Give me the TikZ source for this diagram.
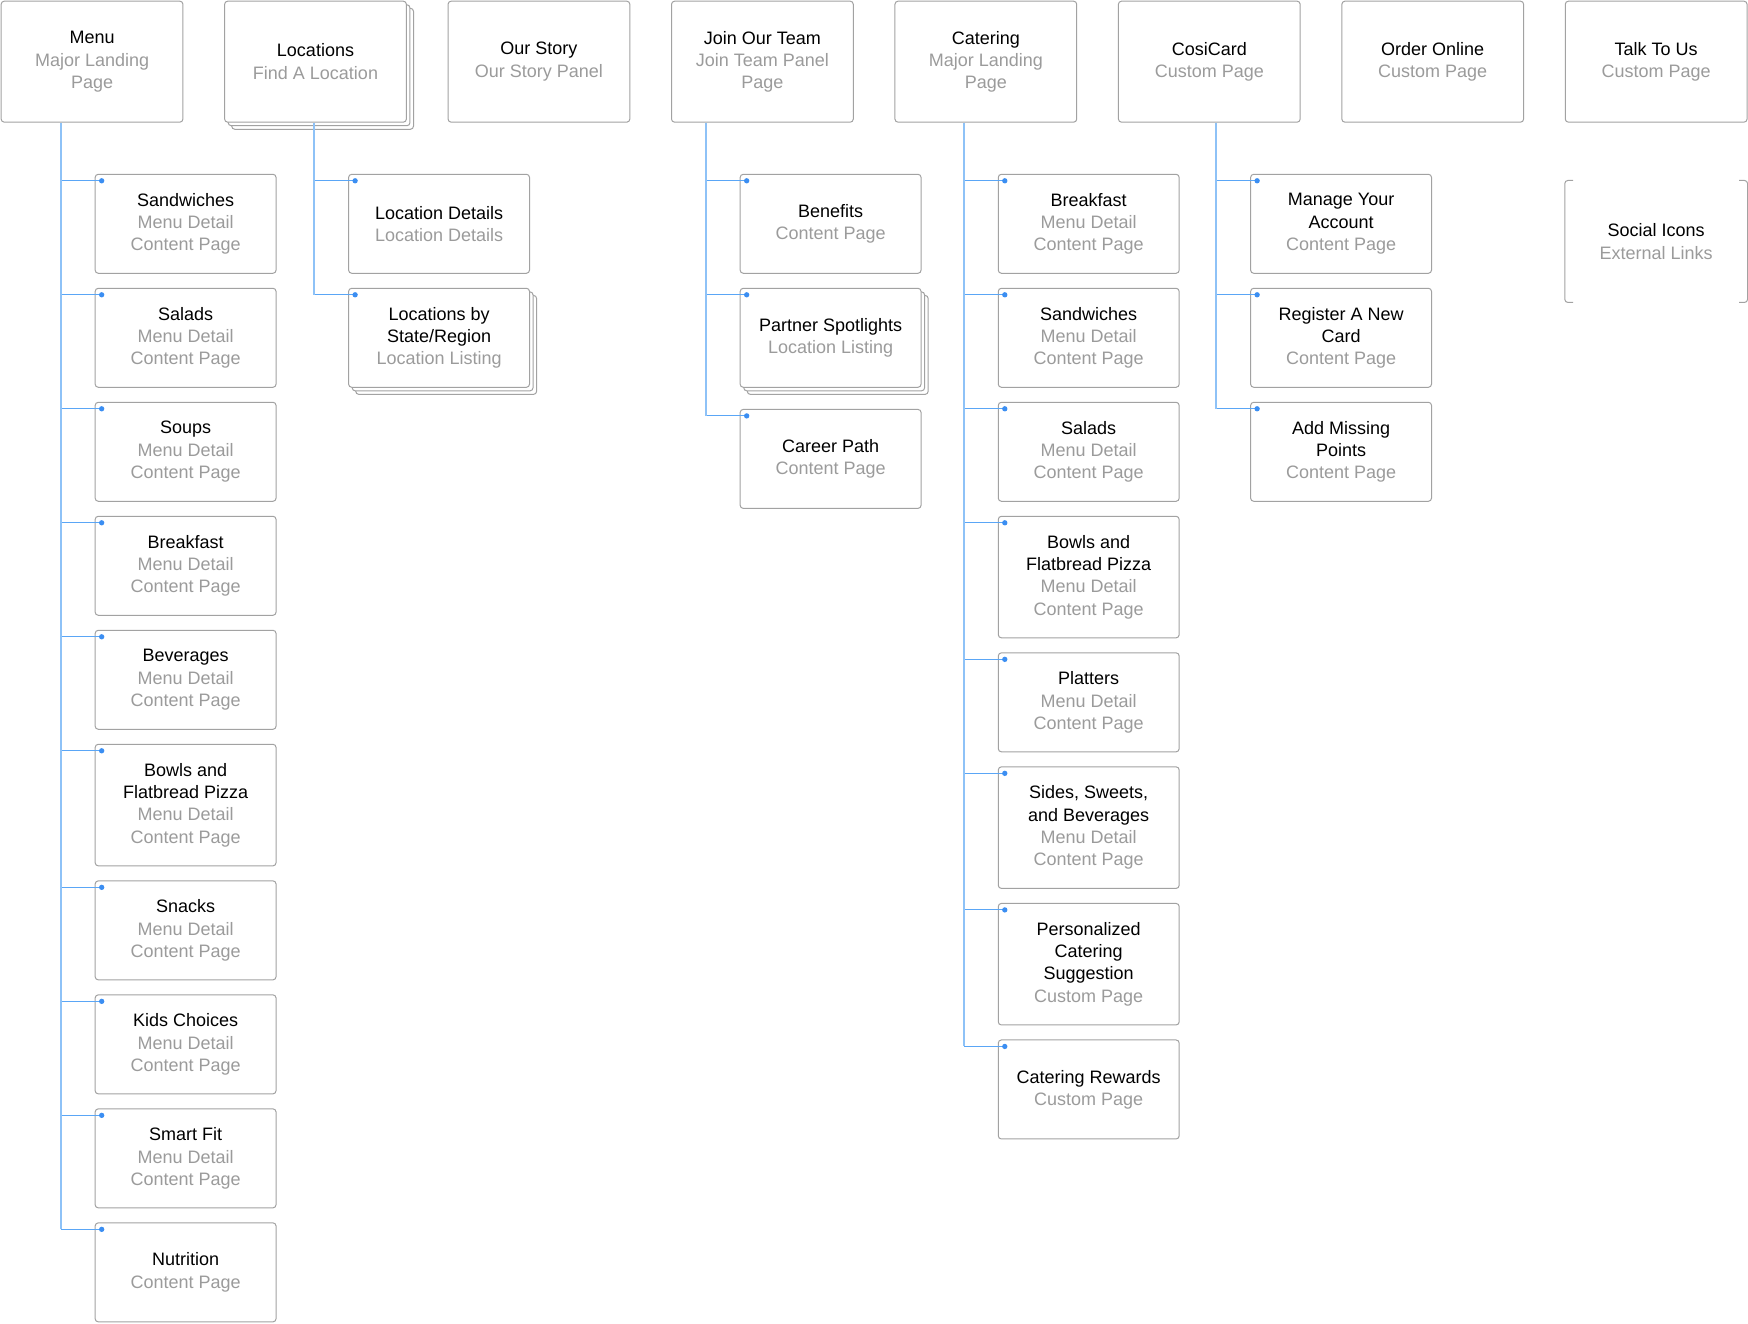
\documentclass[tikz,border=0pt]{standalone}
\usepackage{fontspec}
\setmainfont{Liberation Sans}
\usepackage{xcolor}
\usetikzlibrary{positioning, shadows}

\definecolor{boxgray}{HTML}{A2A2A2}
\definecolor{subgray}{HTML}{9B9B9B}
\definecolor{linkblue}{HTML}{5AA6F6}
\definecolor{trunkblue}{HTML}{8EC2F7}
\definecolor{dotblue}{HTML}{3B8EF2}

\newcommand{\gr}[1]{\textcolor{subgray}{#1}}

\begin{document}
\begin{tikzpicture}[font=\fontsize{8.1}{10}\selectfont, node distance=6.3pt]
        \tikzstyle{toppage}=[draw=boxgray, line width=0.45pt, fill=white, rounded corners=1.4pt, align=center, minimum width=81.8pt, minimum height=54.45pt, inner sep=0pt]
        \tikzstyle{subpage}=[toppage, minimum width=81.4pt, minimum height=44.55pt]
        \tikzstyle{tall}=[minimum height=54.7pt]
        \tikzstyle{stack}=[double copy shadow={shadow xshift=1.6pt, shadow yshift=-1.6pt, draw=boxgray, fill=white, line width=0.45pt}]
        \tikzstyle{branch}=[draw=linkblue, line width=0.4pt]
        \tikzstyle{trunk}=[draw=trunkblue, line width=0.75pt]

        \useasboundingbox (0,0) rectangle (786.6pt,-595.35pt);

        % top level pages
        \node[toppage, anchor=north west] (menu) at (0.3pt,-0.3pt) {Menu\\\gr{Major Landing}\\\gr{Page}};
        \node[toppage, stack, right=18.3pt of menu]  (loc)   {Locations\\\gr{Find A Location}};
        \node[toppage, right=18.3pt of loc]          (story) {Our Story\\\gr{Our Story Panel}};
        \node[toppage, right=18.3pt of story]        (team)  {Join Our Team\\\gr{Join Team Panel}\\\gr{Page}};
        \node[toppage, right=18.3pt of team]         (cater) {Catering\\\gr{Major Landing}\\\gr{Page}};
        \node[toppage, right=18.3pt of cater]        (cosi)  {CosiCard\\\gr{Custom Page}};
        \node[toppage, right=18.3pt of cosi]         (order) {Order Online\\\gr{Custom Page}};
        \node[toppage, right=18.3pt of order]        (talk)  {Talk To Us\\\gr{Custom Page}};

        \node[toppage, draw=none, below=26pt of talk] (social) {Social Icons\\\gr{External Links}};
        \draw[boxgray, line width=0.45pt, rounded corners=1.4pt]
              ([xshift=3.8pt]social.north west) -- (social.north west) -- (social.south west) -- ([xshift=3.8pt]social.south west)
              ([xshift=-3.8pt]social.north east) -- (social.north east) -- (social.south east) -- ([xshift=-3.8pt]social.south east);

        \coordinate (mtr) at ([xshift=27pt]menu.south west);
        \coordinate (ltr) at ([xshift=40.5pt]loc.south west);
        \coordinate (ttr) at ([xshift=15.6pt]team.south west);
        \coordinate (ctr) at ([xshift=31.2pt]cater.south west);
        \coordinate (ktr) at ([xshift=44.2pt]cosi.south west);

        % menu
        \node[subpage, below right=23pt and 15.3pt of mtr] (m1) {Sandwiches\\\gr{Menu Detail}\\\gr{Content Page}};
        \node[subpage, below=of m1]       (m2)  {Salads\\\gr{Menu Detail}\\\gr{Content Page}};
        \node[subpage, below=of m2]       (m3)  {Soups\\\gr{Menu Detail}\\\gr{Content Page}};
        \node[subpage, below=of m3]       (m4)  {Breakfast\\\gr{Menu Detail}\\\gr{Content Page}};
        \node[subpage, below=of m4]       (m5)  {Beverages\\\gr{Menu Detail}\\\gr{Content Page}};
        \node[subpage, tall, below=of m5] (m6)  {Bowls and\\Flatbread Pizza\\\gr{Menu Detail}\\\gr{Content Page}};
        \node[subpage, below=of m6]       (m7)  {Snacks\\\gr{Menu Detail}\\\gr{Content Page}};
        \node[subpage, below=of m7]       (m8)  {Kids Choices\\\gr{Menu Detail}\\\gr{Content Page}};
        \node[subpage, below=of m8]       (m9)  {Smart Fit\\\gr{Menu Detail}\\\gr{Content Page}};
        \node[subpage, below=of m9]       (m10) {Nutrition\\\gr{Content Page}};

        % locations
        \node[subpage, below right=23pt and 15.3pt of ltr] (l1) {Location Details\\\gr{Location Details}};
        \node[subpage, stack, below=of l1] (l2) {Locations by\\State/Region\\\gr{Location Listing}};

        % join our team
        \node[subpage, below right=23pt and 15.3pt of ttr] (t1) {Benefits\\\gr{Content Page}};
        \node[subpage, stack, below=of t1] (t2) {Partner Spotlights\\\gr{Location Listing}};
        \node[subpage, below=9.5pt of t2]  (t3) {Career Path\\\gr{Content Page}};

        % catering
        \node[subpage, below right=23pt and 15.3pt of ctr] (c1) {Breakfast\\\gr{Menu Detail}\\\gr{Content Page}};
        \node[subpage, below=of c1]       (c2) {Sandwiches\\\gr{Menu Detail}\\\gr{Content Page}};
        \node[subpage, below=of c2]       (c3) {Salads\\\gr{Menu Detail}\\\gr{Content Page}};
        \node[subpage, tall, below=of c3] (c4) {Bowls and\\Flatbread Pizza\\\gr{Menu Detail}\\\gr{Content Page}};
        \node[subpage, below=of c4]       (c5) {Platters\\\gr{Menu Detail}\\\gr{Content Page}};
        \node[subpage, tall, below=of c5] (c6) {Sides, Sweets,\\and Beverages\\\gr{Menu Detail}\\\gr{Content Page}};
        \node[subpage, tall, below=of c6] (c7) {Personalized\\Catering\\Suggestion\\\gr{Custom Page}};
        \node[subpage, below=of c7]       (c8) {Catering Rewards\\\gr{Custom Page}};

        % cosicard
        \node[subpage, below right=23pt and 15.3pt of ktr] (k1) {Manage Your\\Account\\\gr{Content Page}};
        \node[subpage, below=of k1] (k2) {Register A New\\Card\\\gr{Content Page}};
        \node[subpage, below=of k2] (k3) {Add Missing\\Points\\\gr{Content Page}};

        % connectors
        \foreach \p/\n/\k in {mtr/m/10, ltr/l/2, ttr/t/3, ctr/c/8, ktr/k/3}{
            \foreach \i in {1,...,\k}{
                \coordinate (\n\i-d) at ([shift={(3.15pt,-3.15pt)}]\n\i.north west);
                \draw[branch] (\p |- \n\i-d) -- (\n\i-d);
                \fill[dotblue] (\n\i-d) circle (1.2pt);
            }
            \draw[trunk] (\p) -- (\p |- \n\k-d);
        }
    \end{tikzpicture}
\end{document}
